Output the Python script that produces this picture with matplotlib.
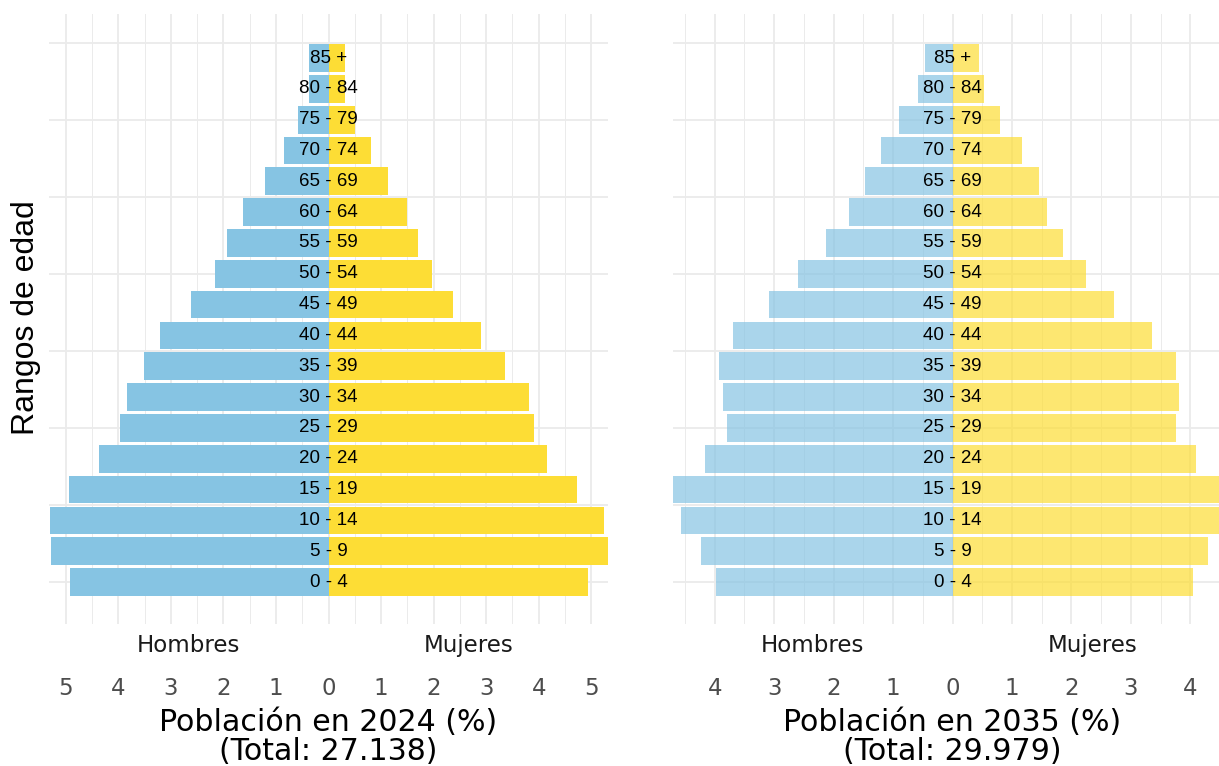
import matplotlib.pyplot as plt
from matplotlib.ticker import MultipleLocator, FuncFormatter

plt.rcParams['font.family'] = ['DejaVu Sans']

# grupos de edad, de abajo (0 - 4) hacia arriba (85 +)
grupos = ['0 - 4', '5 - 9', '10 - 14', '15 - 19', '20 - 24', '25 - 29', '30 - 34',
          '35 - 39', '40 - 44', '45 - 49', '50 - 54', '55 - 59', '60 - 64',
          '65 - 69', '70 - 74', '75 - 79', '80 - 84', '85 +']

# porcentaje de la población total
hombres_2024 = [4.92, 5.29, 5.30, 4.94, 4.36, 3.96, 3.84, 3.52, 3.21, 2.62,
                2.17, 1.94, 1.63, 1.20, 0.84, 0.59, 0.38, 0.38]
mujeres_2024 = [4.93, 5.32, 5.25, 4.73, 4.15, 3.92, 3.82, 3.35, 2.91, 2.36,
                1.96, 1.70, 1.49, 1.14, 0.80, 0.51, 0.32, 0.31]
hombres_2035 = [3.98, 4.23, 4.57, 4.70, 4.16, 3.79, 3.86, 3.93, 3.69, 3.09,
                2.60, 2.13, 1.74, 1.48, 1.20, 0.90, 0.58, 0.46]
mujeres_2035 = [4.05, 4.30, 4.50, 4.55, 4.10, 3.76, 3.81, 3.75, 3.36, 2.72,
                2.25, 1.85, 1.59, 1.46, 1.17, 0.80, 0.53, 0.45]

anios = ['2024', '2035']
totales = ['27.138', '29.979']

color_h = '#86C4E3'
color_m = '#FDDD35'

fig = plt.figure(figsize=(12.19, 7.66), dpi=100)

# posiciones de los paneles (el derecho queda cortado por el borde)
paneles = [
    [0.0402, 0.1854, 0.4586, 0.796],
    [0.5521, 0.1854, 0.4586, 0.796],
]
datos = [(hombres_2024, mujeres_2024, 1.0), (hombres_2035, mujeres_2035, 0.7)]

n = len(grupos)
ypos = list(range(n))

for k, (hombres, mujeres, alfa) in enumerate(datos):
    ax = fig.add_axes(paneles[k])
    lim = max(max(hombres), max(mujeres))

    ax.barh(ypos, [-h for h in hombres], height=0.9, color=color_h, alpha=alfa, zorder=2)
    ax.barh(ypos, mujeres, height=0.9, color=color_m, alpha=alfa, zorder=2)

    for i, g in enumerate(grupos):
        ax.text(0, i, g, ha='center', va='center', fontsize=13.5,
                family=['Liberation Sans', 'DejaVu Sans'], color='black', zorder=3)

    ax.set_xlim(-lim, lim)
    ax.set_ylim(-1.36, n - 1 + 1.42)

    ax.xaxis.set_major_locator(MultipleLocator(1))
    ax.xaxis.set_minor_locator(MultipleLocator(0.5))
    ax.xaxis.set_major_formatter(FuncFormatter(lambda v, p: f"{abs(v):.0f}"))
    ax.set_yticks([0, 2.5, 5, 7.5, 10, 12.5, 15, 17.5])
    ax.set_yticklabels([])

    ax.grid(which='major', axis='both', color='#EBEBEB', lw=1.3, zorder=0)
    ax.grid(which='minor', axis='x', color='#EBEBEB', lw=0.7, zorder=0)
    ax.set_axisbelow(True)

    ax.tick_params(axis='both', which='both', length=0)
    ax.tick_params(axis='x', labelsize=16.5, labelcolor='#4D4D4D', pad=38.5)
    for s in ax.spines.values():
        s.set_visible(False)

    trans = ax.get_xaxis_transform()
    ax.text(-lim / 2, -0.035, 'Hombres', transform=trans, ha='center', va='center',
            fontsize=16.5, color='#1A1A1A')
    ax.text(lim / 2, -0.035, 'Mujeres', transform=trans, ha='center', va='center',
            fontsize=16.5, color='#1A1A1A')

    ax.text(0.5, -0.138, f"Población en {anios[k]} (%)\n(Total: {totales[k]})",
            transform=ax.transAxes, ha='center', va='top', fontsize=21.6,
            linespacing=1.0, color='black')

fig.text(0.021, 0.585, 'Rangos de edad', rotation=90, ha='center', va='center',
         fontsize=23, family=['Liberation Sans', 'DejaVu Sans'])

fig.savefig('out.png', dpi=100)
